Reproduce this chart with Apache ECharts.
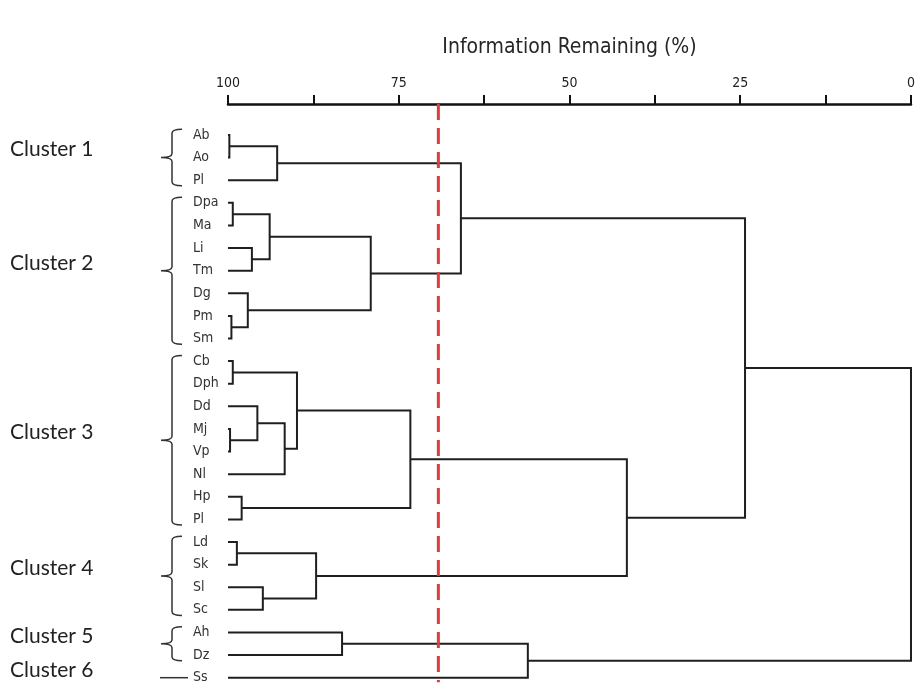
<!DOCTYPE html>
<html><head><meta charset="utf-8">
<script src="https://cdn.jsdelivr.net/npm/echarts@6/dist/echarts.min.js"></script>
<style>html,body{margin:0;padding:0;background:#fff}#chart{width:918px;height:693px}</style>
</head><body><div id="chart"></div>
<script>
// Leaves, top to bottom
const leaves = ['Ab','Ao','Pl','Dpa','Ma','Li','Tm','Dg','Pm','Sm','Cb','Dph','Dd','Mj','Vp','Nl','Hp','Pl','Ld','Sk','Sl','Sc','Ah','Dz','Ss'];
// Linkage: merge k joins mergeA[k] and mergeB[k] at mergeH[k] (% information remaining).
// Indices < 25 are leaves; index 25 + k is the node made by merge k.
const mergeA = [0, 25, 3, 5, 27, 8, 7, 29, 26, 10, 13, 12, 36, 34, 16, 38, 18, 20, 41, 40, 33, 22, 46, 45];
const mergeB = [1, 2, 4, 6, 28, 9, 30, 31, 32, 11, 14, 35, 15, 37, 17, 39, 19, 21, 42, 43, 44, 23, 24, 47];
const mergeH = [99.8, 92.8, 99.3, 96.5, 93.9, 99.5, 97.1, 79.1, 65.9, 99.3, 99.7, 95.7, 91.7, 89.9, 98.0, 73.3, 98.7, 94.9, 87.1, 41.6, 24.3, 83.3, 56.1, 0];
// Clusters (leaf index ranges)
const clusterNames = ['Cluster 1','Cluster 2','Cluster 3','Cluster 4','Cluster 5','Cluster 6'];
const clusterFirst = [0, 3, 10, 18, 22, 24];
const clusterLast  = [2, 9, 17, 21, 23, 24];
// Cut-off level
const cutoff = [69.2];
// Axis tick labels
const xTickLabels = [100, 75, 50, 25, 0];

const NARROW = '"Liberation Sans Narrow", "DejaVu Sans Condensed", "Arial Narrow", sans-serif';

// node positions (height, row)
const nodeH = leaves.map(() => 100);
const nodeY = leaves.map((_, i) => i);
mergeA.forEach((a, k) => {
  const b = mergeB[k];
  nodeH.push(mergeH[k]);
  nodeY.push((nodeY[a] + nodeY[b]) / 2);
});
const links = mergeA.map((a, k) => {
  const b = mergeB[k];
  return [nodeH[a], nodeY[a], nodeH[b], nodeY[b], mergeH[k]];
});
const clusterData = clusterNames.map((n, i) => [clusterFirst[i], clusterLast[i], i]);

const yMin = -1.37, yMax = 24.5;

const chart = echarts.init(document.getElementById('chart'), null, {renderer: 'canvas'});
chart.setOption({
  backgroundColor: '#fff',
  animation: false,
  grid: {left: 228, right: 0, top: 104, bottom: 4, containLabel: false},
  xAxis: {
    type: 'value', position: 'top', inverse: true, min: 0, max: 100, interval: 12.5,
    name: 'Information Remaining (%)', nameLocation: 'middle', nameGap: 46,
    nameTextStyle: {fontFamily: NARROW, fontSize: 21, color: '#262626'},
    axisLine: {show: true, onZero: false, lineStyle: {color: '#111', width: 2.5}},
    axisTick: {show: true, length: 9, lineStyle: {color: '#111', width: 2}},
    axisLabel: {
      margin: 14, fontFamily: NARROW, fontSize: 14, color: '#222',
      showMinLabel: true, showMaxLabel: true,
      formatter: v => xTickLabels.includes(v) ? String(v) : ''
    },
    splitLine: {show: false}
  },
  yAxis: {
    type: 'value', inverse: true, min: yMin, max: yMax,
    axisLine: {show: false}, axisTick: {show: false}, splitLine: {show: false},
    axisLabel: {
      show: true, customValues: leaves.map((_, i) => i),
      formatter: v => leaves[Math.round(v)] || '',
      align: 'left', margin: 35, fontFamily: NARROW, fontSize: 14, color: '#333'
    }
  },
  series: [
    {
      type: 'custom', name: 'dendrogram', clip: false,
      encode: {x: [0, 2, 4], y: [1, 3]},
      data: links,
      renderItem: (params, api) => {
        const hA = api.value(0), yA = api.value(1), hB = api.value(2), yB = api.value(3), h = api.value(4);
        const pts = [api.coord([hA, yA]), api.coord([h, yA]), api.coord([h, yB]), api.coord([hB, yB])];
        return {type: 'polyline', shape: {points: pts}, style: {stroke: '#1f1f1f', lineWidth: 2, fill: null}};
      }
    },
    {
      type: 'custom', name: 'clusters', clip: false,
      encode: {y: [0, 1]},
      data: clusterData,
      renderItem: (params, api) => {
        const first = api.value(0), last = api.value(1), idx = api.value(2);
        const x0 = api.coord([100, 0])[0];
        const bx = x0 - 56, tip = x0 - 67, hook = x0 - 46;
        const mid = (first + last) / 2;
        const children = [];
        if (first === last) {
          const y = api.coord([100, first])[1];
          children.push({type: 'line', shape: {x1: x0 - 68, y1: y, x2: x0 - 40, y2: y},
            style: {stroke: '#333', lineWidth: 1.5}});
        } else {
          const yt = api.coord([100, first - 0.25])[1];
          const yb = api.coord([100, last + 0.25])[1];
          const ym = api.coord([100, mid])[1];
          const r = 4;
          const d = `M${hook} ${yt} Q${bx} ${yt} ${bx} ${yt + r} L${bx} ${ym - r} Q${bx} ${ym} ${tip} ${ym} ` +
                    `M${tip} ${ym} Q${bx} ${ym} ${bx} ${ym + r} L${bx} ${yb - r} Q${bx} ${yb} ${hook} ${yb}`;
          children.push({type: 'path', shape: {pathData: d}, style: {stroke: '#333', lineWidth: 1.5, fill: null}});
        }
        const ly = api.coord([100, mid - 0.35])[1];
        children.push({type: 'text', x: 10, y: ly,
          style: {text: clusterNames[idx], fontFamily: 'Lato, "Open Sans", sans-serif', fontSize: 21,
                  fill: '#222', align: 'left', verticalAlign: 'middle'}});
        return {type: 'group', children};
      }
    },
    {
      type: 'line', name: 'cut-off', symbol: 'none', silent: true,
      data: [[cutoff[0], yMin], [cutoff[0], 24.2]],
      lineStyle: {color: '#dd3b3f', width: 3, type: [16, 8]}
    }
  ]
});
</script></body></html>
